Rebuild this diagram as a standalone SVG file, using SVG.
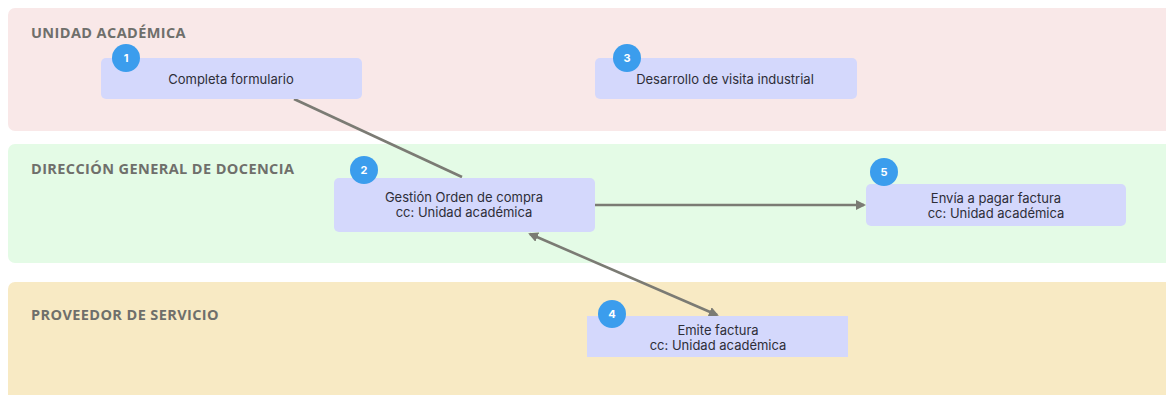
<svg xmlns="http://www.w3.org/2000/svg" width="1166" height="395" viewBox="0 0 1166 395">
<style>
.lane-label{font-family:"Open Sans","Liberation Sans",sans-serif;font-weight:700;font-size:14.5px;fill:#6f6f6b;letter-spacing:0.4px}
.box{fill:#d4d8fc}
.txt{font-family:"Inter","Roboto","Liberation Sans",sans-serif;font-size:13px;fill:#2e2e38;text-anchor:middle}
.badge{fill:#3b9ded}
.num{font-family:"Inter","Roboto","Liberation Sans",sans-serif;font-size:11px;font-weight:700;fill:#ffffff;text-anchor:middle}
.conn{stroke:#7b7b74;stroke-width:2.6;fill:none}
</style>
<defs>
<marker id="ah" markerWidth="10" markerHeight="10" refX="8" refY="5" orient="auto-start-reverse" markerUnits="userSpaceOnUse">
<path d="M0,0 L10,5 L0,10 Z" fill="#7b7b74"/>
</marker>
</defs>
<rect width="1166" height="395" fill="#ffffff"/>
<g id="lanes">
<rect x="8" y="8" width="1166" height="123" rx="7" fill="#f9e8e8"/>
<rect x="8" y="144" width="1166" height="119" rx="7" fill="#e4fbe6"/>
<rect x="8" y="282" width="1166" height="125" rx="7" fill="#f8eac4"/>
<text class="lane-label" x="31" y="38">UNIDAD ACADÉMICA</text>
<text class="lane-label" x="31" y="174">DIRECCIÓN GENERAL DE DOCENCIA</text>
<text class="lane-label" x="31" y="320">PROVEEDOR DE SERVICIO</text>
</g>
<g id="connectors">
<line class="conn" x1="294" y1="99" x2="462" y2="177"/>
<line class="conn" x1="595" y1="205" x2="864" y2="205" marker-end="url(#ah)"/>
<line class="conn" x1="530" y1="234" x2="717" y2="315" marker-start="url(#ah)" marker-end="url(#ah)"/>
</g>
<g id="node1">
<rect class="box" x="101" y="58" width="261" height="41" rx="5"/>
<circle class="badge" cx="126" cy="58" r="14"/>
<text class="num" x="126" y="62">1</text>
<text class="txt" x="231" y="84">Completa formulario</text>
</g>
<g id="node2">
<rect class="box" x="334" y="178" width="261" height="54" rx="5"/>
<circle class="badge" cx="364" cy="170" r="14"/>
<text class="num" x="364" y="174">2</text>
<text class="txt" x="464" y="202">Gestión Orden de compra</text>
<text class="txt" x="464" y="217">cc: Unidad académica</text>
</g>
<g id="node3">
<rect class="box" x="595" y="58" width="262" height="41" rx="5"/>
<circle class="badge" cx="627" cy="58" r="14"/>
<text class="num" x="627" y="62">3</text>
<text class="txt" x="725" y="84">Desarrollo de visita industrial</text>
</g>
<g id="node4">
<rect class="box" x="587" y="316" width="261" height="41"/>
<circle class="badge" cx="612" cy="314" r="14"/>
<text class="num" x="612" y="318">4</text>
<text class="txt" x="718" y="335">Emite factura</text>
<text class="txt" x="718" y="350">cc: Unidad académica</text>
</g>
<g id="node5">
<rect class="box" x="866" y="184" width="260" height="42" rx="5"/>
<circle class="badge" cx="884" cy="172" r="14"/>
<text class="num" x="884" y="176">5</text>
<text class="txt" x="996" y="203">Envía a pagar factura</text>
<text class="txt" x="996" y="218">cc: Unidad académica</text>
</g>
</svg>
